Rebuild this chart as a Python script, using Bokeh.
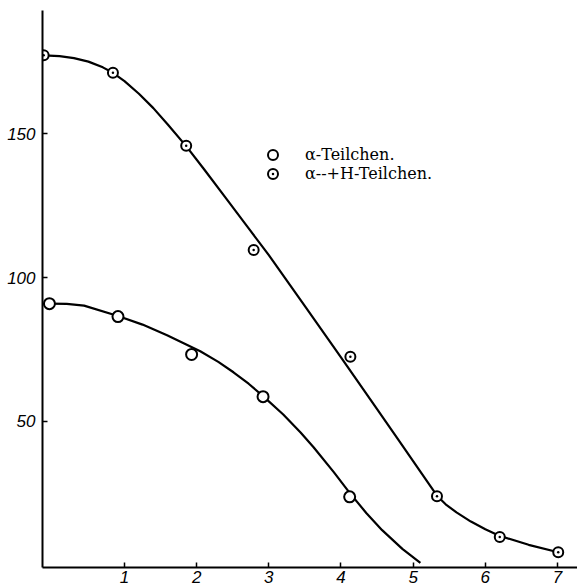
from bokeh.plotting import figure
from bokeh.models import Range1d, FixedTicker, Legend, LegendItem
from bokeh.embed import file_html
from bokeh.resources import INLINE

# --- data ---
# alpha-particles (open circles)
alpha_x = [-0.04, 0.91, 1.93, 2.92, 4.12]
alpha_y = [90.9, 86.4, 73.2, 58.5, 23.6]
# alpha + H particles (dotted circles)
alphaH_x = [-0.12, 0.84, 1.855, 2.79, 4.13, 5.33, 6.20, 7.01]
alphaH_y = [177.4, 171.3, 145.9, 109.6, 72.4, 23.8, 9.6, 4.3]

# hand-drawn curves
alpha_curve_x = [-0.04, 0.2, 0.44, 0.91, 1.25, 1.59, 2.05, 2.3, 2.51, 2.72, 2.92,
                 3.2, 3.44, 3.62, 3.9, 4.12, 4.35, 4.57, 4.85, 5.10]
alpha_curve_y = [90.9, 90.8, 90.2, 86.6, 83.6, 79.9, 74.3, 70.6, 67.0, 63.0, 58.7,
                 52.3, 46.0, 40.9, 32.2, 25.0, 18.0, 12.0, 5.5, 0.6]
alphaH_curve_x = [-0.12, 0.1, 0.3, 0.5, 0.7, 0.84, 1.0, 1.2, 1.4, 1.6, 1.86, 2.1,
                  2.4, 2.7, 3.0, 3.5, 4.0, 4.5, 4.82, 5.1, 5.33, 5.45, 5.6, 5.8,
                  6.0, 6.2, 6.6, 7.01]
alphaH_curve_y = [177.4, 177.1, 176.4, 175.2, 173.2, 171.3, 168.4, 164.0, 159.0, 153.3, 145.6, 137.8,
                  127.8, 117.8, 107.8, 90.0, 72.2, 54.2, 42.6, 32.4, 24.0, 21.0, 18.2, 15.0,
                  12.3, 10.0, 6.9, 4.3]

x_ticks = [1, 2, 3, 4, 5, 6, 7]
y_ticks = [50, 100, 150]
labels = ["α-Teilchen.", "α--+H-Teilchen."]

p = figure(width=577, height=588, output_backend="svg", toolbar_location=None,
           x_range=Range1d(-0.136, 7.277), y_range=Range1d(-1.0, 193.0),
           min_border_left=42, min_border_right=0, min_border_top=10, min_border_bottom=21)
p.outline_line_color = None
p.xgrid.visible = False
p.ygrid.visible = False
p.background_fill_color = "white"
p.border_fill_color = "white"

for ax in (p.xaxis[0], p.yaxis[0]):
    ax.axis_line_width = 2
    ax.axis_line_color = "black"
    ax.major_tick_in = 5
    ax.major_tick_out = 0
    ax.major_tick_line_width = 1.5
    ax.major_tick_line_color = "black"
    ax.minor_tick_line_color = None
    ax.major_label_text_font = "Liberation Sans"
    ax.major_label_text_font_style = "italic"
    ax.major_label_text_font_size = "17px"
    ax.major_label_text_color = "black"
p.xaxis.ticker = FixedTicker(ticks=x_ticks)
p.yaxis.ticker = FixedTicker(ticks=y_ticks)
p.xaxis.major_label_standoff = 3
p.yaxis.major_label_standoff = 7

p.line(alpha_curve_x, alpha_curve_y, line_color="black", line_width=2.2)
p.line(alphaH_curve_x, alphaH_curve_y, line_color="black", line_width=2.2)

r_a = p.scatter(alpha_x, alpha_y, marker="circle", size=11, fill_color="white",
                line_color="black", line_width=2)
r_h = p.scatter(alphaH_x, alphaH_y, marker="circle_dot", size=10, fill_color="white",
                line_color="black", line_width=2)

legend_style = dict(orientation="vertical", glyph_width=25, glyph_height=25,
                    spacing=0, padding=0, margin=0, label_standoff=20,
                    label_text_font="DejaVu Serif", label_text_font_size="16px",
                    label_text_color="black", border_line_color=None,
                    background_fill_alpha=0)
legend1 = Legend(items=[LegendItem(label=labels[0], renderers=[r_a])],
                 location=(218, 400), **legend_style)
legend2 = Legend(items=[LegendItem(label=labels[1], renderers=[r_h])],
                 location=(218, 381), **legend_style)
p.add_layout(legend1)
p.add_layout(legend2)

open("out.html", "w").write(file_html(p, INLINE))
